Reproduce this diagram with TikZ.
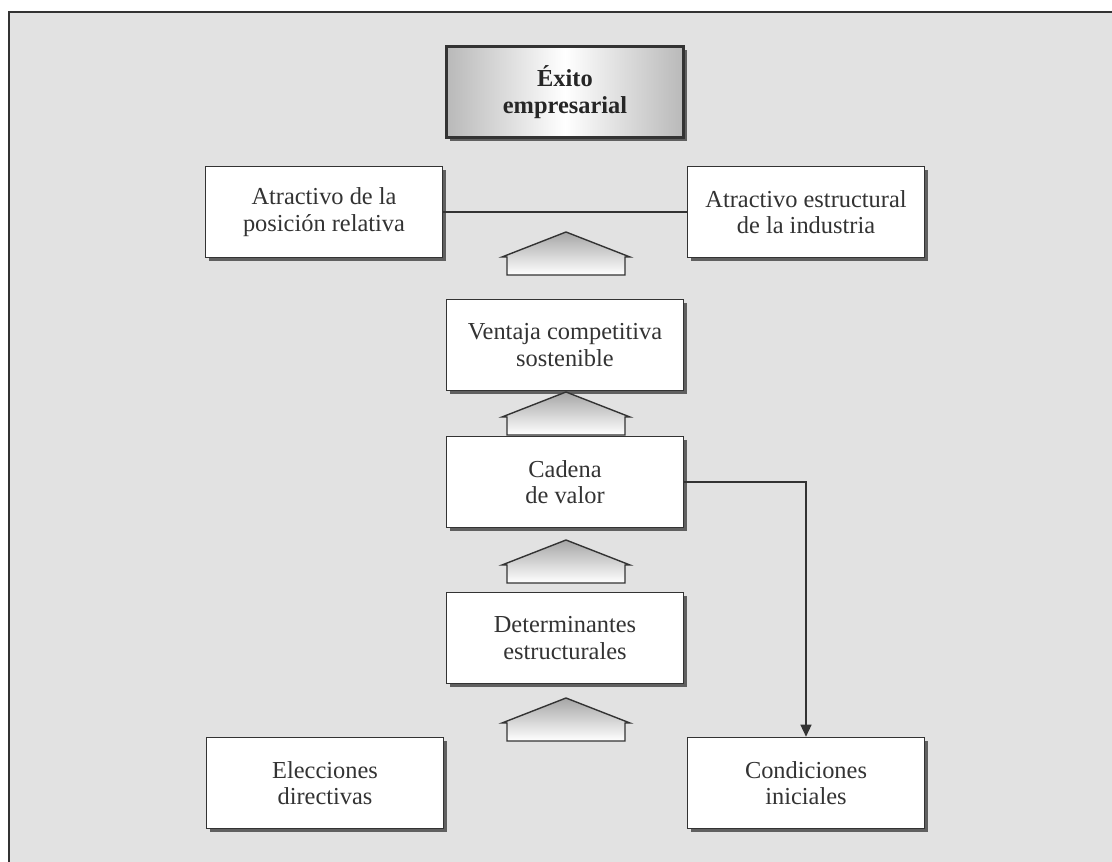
\documentclass[tikz,border=0pt]{standalone}
\usepackage{fontspec}
\setmainfont{Liberation Serif}
\usetikzlibrary{shadows,arrows.meta}
\definecolor{fondo}{HTML}{E2E2E2}
\definecolor{borde}{HTML}{333333}
\tikzset{
  caja/.style={draw=borde, line width=1.6pt, fill=white, text=borde,
    minimum width=237pt, minimum height=91pt, align=center,
    font=\fontsize{24.4}{26.5}\selectfont,
    drop shadow={shadow xshift=3pt, shadow yshift=-3pt, fill=black!75, opacity=.8}},
  meta/.style={caja, line width=2.6pt, left color=gray!55, right color=gray!55,
    middle color=white, font=\fontsize{24.4}{26.5}\selectfont\bfseries, text=black!85},
  casa/.pic={
    \draw[borde, line width=1.4pt, top color=gray!70, bottom color=white]
      (-59,-43) -- (-59,-25) -- (-64,-25) -- (0,0) -- (64,-25)
      -- (59,-25) -- (59,-43) -- cycle;
  }
}
\begin{document}
\begin{tikzpicture}[x=1pt,y=1pt]
  \useasboundingbox (0,0) rectangle (1112,-862);
  \draw[borde, line width=2.4pt, fill=fondo] (9,-12) rectangle (1130,-880);

  \node[meta] (exito)     at (565,-92)  {Éxito\\empresarial};
  \node[caja] (posrel)    at (324,-212) {Atractivo de la\\posición relativa};
  \node[caja] (industria) at (806,-212) {Atractivo estructural\\de la industria};
  \node[caja] (ventaja)   at (565,-345) {Ventaja competitiva\\sostenible};
  \node[caja] (cadena)    at (565,-482) {Cadena\\de valor};
  \node[caja] (determ)    at (565,-638) {Determinantes\\estructurales};
  \node[caja] (elecc)     at (325,-783) {Elecciones\\directivas};
  \node[caja] (condic)    at (806,-783) {Condiciones\\iniciales};

  \draw[borde, line width=1.4pt] (posrel.east) -- (industria.west);
  \draw[borde, line width=1.4pt, -{Triangle[length=12pt,width=11pt]}]
    (cadena.east) -| (condic.north);

  % flechas en forma de casa
  \pic at (566,-232) {casa};
  \pic at (566,-392) {casa};
  \pic at (566,-540) {casa};
  \pic at (566,-698) {casa};
\end{tikzpicture}
\end{document}
